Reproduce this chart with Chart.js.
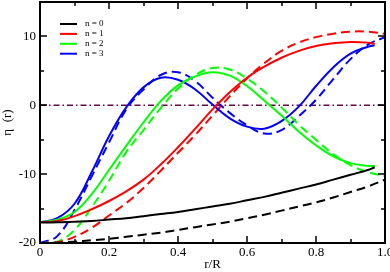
<!DOCTYPE html>
<html>
<head>
  <meta charset="utf-8">
  <title>eta(r)</title>
  <script src="https://cdn.jsdelivr.net/npm/chart.js"></script>
  <style>
    html, body { margin: 0; padding: 0; background: #fff; }
  </style>
</head>
<body>
  <canvas id="chart" width="390" height="272"></canvas>

  <script>
    // r/R sample points (solid curves stop a bit before the edge)
    const rSolid  = [0, 0.05, 0.1, 0.15, 0.2, 0.25, 0.3, 0.35, 0.4, 0.45, 0.5, 0.55, 0.6, 0.65, 0.7, 0.75, 0.8, 0.85, 0.9, 0.95, 0.97];
    const rDashed = [0, 0.05, 0.1, 0.15, 0.2, 0.25, 0.3, 0.35, 0.4, 0.45, 0.5, 0.55, 0.6, 0.65, 0.7, 0.75, 0.8, 0.85, 0.9, 0.95, 1.0];

    const labels = ['n = 0', 'n = 1', 'n = 2', 'n = 3'];
    const colors = ['#000000', '#ff0000', '#00ff00', '#0000ff'];

    const n0Solid  = [-17.0, -17.0, -16.9, -16.8, -16.6, -16.4, -16.1, -15.8, -15.5, -15.1, -14.7, -14.3, -13.8, -13.3, -12.7, -12.1, -11.5, -10.8, -10.1, -9.4, -9.0];
    const n0Dashed = [-20.0, -19.95, -19.8, -19.6, -19.4, -19.1, -18.8, -18.5, -18.1, -17.7, -17.3, -16.9, -16.4, -15.9, -15.3, -14.7, -14.1, -13.4, -12.6, -11.8, -10.8];

    const n1Solid  = [-17.0, -16.8, -16.1, -15.1, -13.9, -12.5, -10.8, -8.6, -6.1, -3.4, -0.6, 1.9, 4.0, 5.6, 6.9, 7.9, 8.6, 9.0, 9.2, 9.1, 8.9];
    const n1Dashed = [-20.0, -19.9, -19.1, -17.8, -16.0, -14.2, -12.0, -9.5, -6.9, -4.3, -1.5, 1.3, 3.9, 6.1, 7.9, 9.1, 9.9, 10.4, 10.7, 10.7, 10.4];

    const n2Solid  = [-17.0, -16.6, -15.5, -12.9, -9.4, -5.9, -2.5, 0.6, 2.9, 4.2, 4.8, 4.3, 2.8, 0.7, -1.5, -3.8, -5.8, -7.4, -8.4, -8.8, -8.8];
    const n2Dashed = [-20.0, -19.8, -18.1, -14.8, -11.0, -6.8, -3.6, -0.4, 2.4, 4.4, 5.4, 5.2, 3.9, 2.0, -0.3, -2.8, -5.0, -7.1, -8.7, -9.7, -10.3];

    const n3Solid  = [-17.0, -16.4, -14.3, -9.7, -4.5, -0.3, 2.6, 4.0, 3.7, 2.3, 0.1, -1.9, -3.1, -3.4, -2.3, -0.2, 2.8, 5.5, 7.5, 8.5, 8.7];
    const n3Dashed = [-20.0, -19.0, -15.2, -10.3, -5.4, -0.6, 2.3, 4.4, 4.8, 3.5, 1.1, -1.1, -2.9, -4.1, -3.6, -1.6, 0.8, 3.8, 6.7, 8.8, 9.9];

    const zeroLine = [0, 0];
    const zeroR = [0, 1];

    const solids = [n0Solid, n1Solid, n2Solid, n3Solid];
    const dashes = [n0Dashed, n1Dashed, n2Dashed, n3Dashed];

    const xy = (xs, ys) => xs.map((x, i) => ({ x: x, y: ys[i] }));

    const datasets = [];
    solids.forEach((s, i) => datasets.push({
      label: labels[i],
      data: xy(rSolid, s),
      borderColor: colors[i],
      borderWidth: 2,
      pointRadius: 0,
      tension: 0.4,
      fill: false
    }));
    dashes.forEach((s, i) => datasets.push({
      label: '',
      data: xy(rDashed, s),
      borderColor: colors[i],
      borderWidth: 2,
      borderDash: [9, 5],
      pointRadius: 0,
      tension: 0.4,
      fill: false
    }));
    datasets.push({
      label: '',
      data: xy(zeroR, zeroLine),
      borderColor: 'rgb(103,7,72)',
      borderWidth: 1.5,
      borderDash: [6, 3, 1.5, 3],
      pointRadius: 0,
      fill: false
    });

    // frame, inward ticks on all four sides, and the legend box
    const framePlugin = {
      id: 'frame',
      afterDatasetsDraw(chart) {
        const { ctx, chartArea: a, scales } = chart;
        const xs = scales.x, ys = scales.y;
        ctx.save();
        ctx.strokeStyle = '#000';
        ctx.lineWidth = 1.5;
        ctx.beginPath();
        for (let v = 0; v <= 10; v++) {
          const px = Math.round(xs.getPixelForValue(v / 10));
          const len = v % 2 === 0 ? 7 : 4;
          ctx.moveTo(px, a.bottom); ctx.lineTo(px, a.bottom - len);
          ctx.moveTo(px, a.top); ctx.lineTo(px, a.top + len);
        }
        for (let v = -20; v <= 15; v += 5) {
          const py = Math.round(ys.getPixelForValue(v));
          const len = v % 10 === 0 ? 7 : 4;
          ctx.moveTo(a.left, py); ctx.lineTo(a.left + len, py);
          ctx.moveTo(a.right, py); ctx.lineTo(a.right - len, py);
        }
        ctx.stroke();
        ctx.lineWidth = 2;
        ctx.strokeRect(a.left, a.top, a.right - a.left, a.bottom - a.top);

        // legend
        ctx.font = '9px "Liberation Serif"';
        ctx.textBaseline = 'middle';
        ctx.fillStyle = '#000';
        for (let i = 0; i < 4; i++) {
          const ds = chart.data.datasets[i];
          const y = a.top + 22 + i * 9.9;
          ctx.strokeStyle = ds.borderColor;
          ctx.lineWidth = 2;
          ctx.beginPath();
          ctx.moveTo(a.left + 20, y); ctx.lineTo(a.left + 37, y);
          ctx.stroke();
          ctx.fillText(ds.label, a.left + 45, y);
        }
        ctx.restore();
      }
    };

    Chart.defaults.font.family = '"Liberation Serif", "Times New Roman", serif';
    Chart.defaults.font.size = 13;
    Chart.defaults.color = '#000';

    new Chart(document.getElementById('chart'), {
      type: 'line',
      data: { datasets: datasets },
      plugins: [framePlugin],
      options: {
        responsive: false,
        animation: false,
        layout: { padding: { top: 2, right: 5, left: 0, bottom: 0 } },
        plugins: {
          legend: { display: false },
          tooltip: { enabled: false }
        },
        scales: {
          x: {
            type: 'linear',
            min: 0,
            max: 1,
            grid: { display: false, drawTicks: false },
            border: { display: false },
            ticks: { stepSize: 0.2, padding: 2, maxRotation: 0 },
            title: { display: true, text: 'r/R', padding: 0 },
            afterFit(scale) {
              scale.height = 29;
              scale.paddingLeft = 0;
              scale.paddingRight = 0;
            }
          },
          y: {
            min: -20,
            max: 15,
            grid: { display: false, drawTicks: false },
            border: { display: false },
            ticks: { stepSize: 10, padding: 4 },
            title: { display: true, text: 'η  (r)', padding: 0 },
            afterBuildTicks(scale) {
              scale.ticks = scale.ticks.filter(t => t.value % 10 === 0);
            },
            afterFit(scale) {
              scale.width = 40;
              scale.paddingTop = 0;
              scale.paddingBottom = 0;
            }
          }
        }
      }
    });
  </script>
</body>
</html>
